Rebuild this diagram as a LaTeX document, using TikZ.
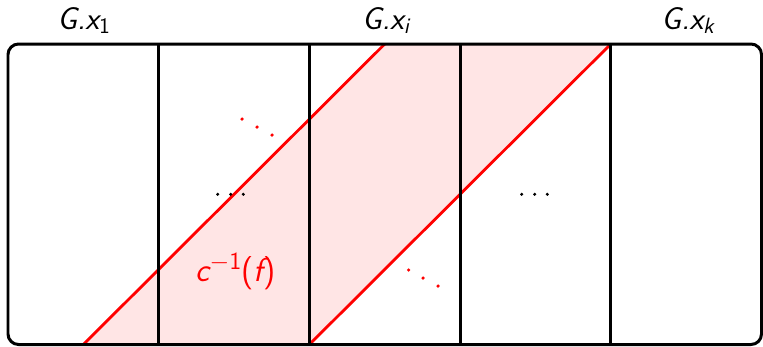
\documentclass[tikz,border=0pt]{standalone}
\begin{document}
\begin{tikzpicture}[
    x=0.02cm, y=-0.02cm,
    every node/.style={font=\fontsize{18}{20}\selectfont\sffamily\itshape},
    frame/.style={draw, line width=1.7pt},
    cut/.style={draw=red, line width=1.6pt},
    preimage/.style={fill=red!10}
]
\useasboundingbox (0,0) rectangle (763,346);

% column borders
\foreach \i in {0,...,5} {
    \coordinate (t\i) at ({8+150.7*\i},44);
    \coordinate (b\i) at ({8+150.7*\i},344.5);
}
\coordinate (c1) at (83.35,344.5);
\coordinate (c3) at (384.75,44);

\fill[preimage] (c1) -- (b2) -- (t4) -- (c3) -- cycle;
\draw[cut] (c1) -- (c3);
\draw[cut] (b2) -- (t4);

\foreach \i in {1,...,4}
    \draw[frame] (t\i) -- (b\i);
\draw[frame, rounded corners=6pt] (t0) rectangle (b5);

% dots
\foreach \x in {217.7,230.7,243.3,521.7,534.7,547.3}
    \fill (\x,194.3) circle (0.95pt);
\foreach \x/\y in {242/119,257/127,272/135,408.7/270,423/278,438/286}
    \fill[red] (\x,\y) circle (1pt);

\node[anchor=base] (gx1) at (84,29) {G.x\textsubscript{\upshape 1}};
\node[anchor=base] (gxi) at (386,29) {G.x\textsubscript{i}};
\node[anchor=base] (gxk) at (688,29) {G.x\textsubscript{k}};
\node[anchor=base, text=red, font=\fontsize{19}{21}\selectfont\sffamily\itshape] (cf) at (235.5,281)
    {c{\fontsize{14}{16}\selectfont\raisebox{0.45em}{$-$\upshape 1}}{\upshape(}f{\upshape)}};
\end{tikzpicture}
\end{document}
